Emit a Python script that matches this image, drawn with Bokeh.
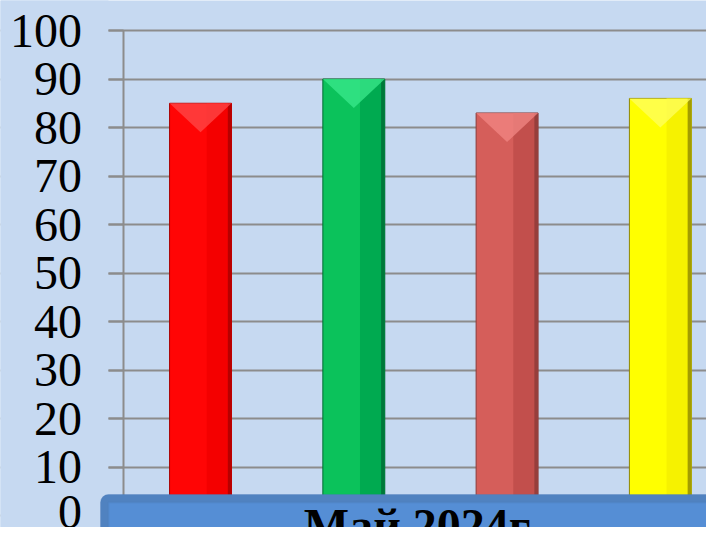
from bokeh.plotting import figure
from bokeh.models import Range1d, FixedTicker, BoxAnnotation, Label, ColumnDataSource
from bokeh.embed import file_html
from bokeh.resources import INLINE

# ---- data ----
values = [85, 90, 83, 86]
bar_colors = ["#FF0505", "#0BC25B", "#D55E5A", "#FFFF00"]
shade_colors = ["#F40000", "#00AA50", "#C24F4C", "#F6F200"]
edge_colors = ["#A80000", "#006B33", "#8B3A38", "#8E8600"]
top_colors = ["#FF4A4A", "#3BEA8C", "#F28784", "#FFFF60"]
y_ticks = [0, 10, 20, 30, 40, 50, 60, 70, 80, 90, 100]
title_text = "Май 2024г."

BG = "#C6D9F1"
GRID = "#8C8C8C"
bar_w = 0.404

xs = [i + 1 for i in range(len(values))]

p = figure(width=706, height=527, output_backend="svg", toolbar_location=None,
           x_range=Range1d(-0.305, 4.301), y_range=Range1d(-2.47, 106.19),
           background_fill_color=BG, border_fill_color=BG,
           min_border_left=0, min_border_right=0,
           min_border_top=0, min_border_bottom=0)
p.outline_line_color = None
p.xaxis.visible = False
p.xgrid.visible = False

yax = p.yaxis[0]
yax.fixed_location = 0.5
yax.bounds = (0, 100)
yax.ticker = FixedTicker(ticks=y_ticks)
p.ygrid.ticker = FixedTicker(ticks=y_ticks)
p.ygrid.level = "image"
p.ygrid.grid_line_color = GRID
p.ygrid.grid_line_width = 2
yax.axis_line_color = GRID
yax.axis_line_width = 2
yax.major_tick_line_color = GRID
yax.major_tick_line_width = 2
yax.major_tick_in = 0
yax.major_tick_out = 15
yax.minor_tick_line_color = None
yax.major_label_standoff = 27
yax.major_label_text_font = "Liberation Serif"
yax.major_label_text_font_size = "48px"
yax.major_label_text_color = "black"

# keep grid lines from running under the tick labels
cover = BoxAnnotation(left=-10, right=108, top=600, bottom=-30,
                      left_units="screen", right_units="screen",
                      top_units="screen", bottom_units="screen",
                      fill_color=BG, fill_alpha=1.0, line_color=None,
                      level="underlay")
p.add_layout(cover)

# main bars
src = ColumnDataSource(dict(x=xs, top=values, color=bar_colors, edge=edge_colors))
p.vbar(x="x", top="top", bottom=0, width=bar_w, source=src,
       fill_color="color", line_color="edge", line_width=1)

# right-half shading
src2 = ColumnDataSource(dict(x=[x + bar_w * 0.3 for x in xs], top=values, color=shade_colors))
p.vbar(x="x", top="top", bottom=0, width=bar_w * 0.4, source=src2,
       fill_color="color", line_color=None)

# dark right edge strip
src3 = ColumnDataSource(dict(x=[x + bar_w / 2 - 0.012 for x in xs], top=values, color=edge_colors))
p.vbar(x="x", top="top", bottom=0, width=0.024, source=src3,
       fill_color="color", line_color=None, fill_alpha=0.8)

# top bevel triangles
tri_x = [[x - bar_w / 2, x + bar_w / 2, x] for x in xs]
tri_y = [[v, v, v - 6] for v in values]
p.patches(tri_x, tri_y, fill_color=top_colors, fill_alpha=0.75, line_color=None)

# bottom title box (screen units relative to frame left / bottom)
outer = BoxAnnotation(left=100, right=800, top=33, bottom=-30,
                      left_units="screen", right_units="screen",
                      top_units="screen", bottom_units="screen",
                      fill_color="#5082C0", fill_alpha=1.0,
                      line_color="#4A7AB8", line_width=1, border_radius=8,
                      level="annotation")
inner = BoxAnnotation(left=108, right=800, top=25, bottom=-30,
                      left_units="screen", right_units="screen",
                      top_units="screen", bottom_units="screen",
                      fill_color="#558ED5", fill_alpha=1.0,
                      line_color="#4C7DBE", line_width=2,
                      level="annotation")
p.add_layout(outer)
p.add_layout(inner)

lbl = Label(x=420, y=2, x_units="screen", y_units="screen", text=title_text,
            text_font="Liberation Serif", text_font_style="bold",
            text_font_size="48px", text_align="center",
            text_baseline="alphabetic", text_color="black")
p.add_layout(lbl)

open("out.html", "w").write(file_html(p, INLINE))
